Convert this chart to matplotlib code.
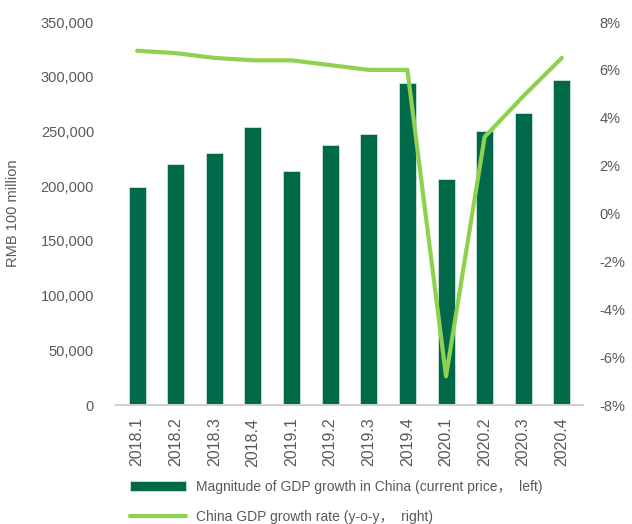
#!/usr/bin/env python3

import numpy as np
import matplotlib
matplotlib.use("Agg")
import matplotlib.pyplot as plt
from matplotlib.ticker import FuncFormatter

quarters = ["2018.1", "2018.2", "2018.3", "2018.4",
            "2019.1", "2019.2", "2019.3", "2019.4",
            "2020.1", "2020.2", "2020.3", "2020.4"]
# RMB 100 million, left axis
gdp_values = [198800, 220300, 230300, 254100,
              213900, 237700, 247700, 294300,
              206600, 250500, 266900, 297000]
# y-o-y %, right axis
growth_rate = [6.8, 6.7, 6.5, 6.4,
               6.4, 6.2, 6.0, 6.0,
               -6.8, 3.2, 4.9, 6.5]

BAR_COLOR = "#00694a"
LINE_COLOR = "#8ed14f"
TEXT_COLOR = "#595959"
FONTS = ["Liberation Sans", "Noto Sans CJK SC", "DejaVu Sans"]

plt.rcParams["font.family"] = FONTS

fig = plt.figure(figsize=(6.32, 5.24), dpi=100)
ax = fig.add_axes([0.184, 0.227, 0.738, 0.731])
ax2 = ax.twinx()

x = np.arange(len(quarters))
bars = ax.bar(x, gdp_values, width=0.44, color=BAR_COLOR,
              edgecolor="#cfe3d8", linewidth=0.6, zorder=2)
line, = ax2.plot(x, growth_rate, color=LINE_COLOR, linewidth=3.0,
                 solid_capstyle="round", solid_joinstyle="round", zorder=3)

ax.set_xlim(-0.54, len(quarters) - 0.46)
ax.set_ylim(0, 350000)
ax.set_yticks(np.arange(0, 350001, 50000))
ax.yaxis.set_major_formatter(FuncFormatter(lambda v, p: "{:,.0f}".format(v)))
ax2.set_ylim(-8, 8)
ax2.set_yticks(np.arange(-8, 9, 2))
ax2.yaxis.set_major_formatter(FuncFormatter(lambda v, p: "{:.0f}%".format(v)))

ax.set_xticks(x)
ax.set_xticklabels(quarters, rotation=90)

for a in (ax, ax2):
    for s in ("top", "left", "right", "bottom"):
        a.spines[s].set_visible(False)
    a.tick_params(length=0, colors=TEXT_COLOR, labelsize=10.5)
ax.spines["bottom"].set_visible(True)
ax.spines["bottom"].set_color("#d0d0d0")
ax.spines["bottom"].set_linewidth(1.5)
ax.tick_params(axis="y", pad=16)
ax.tick_params(axis="x", pad=9, labelsize=11.5)
ax2.tick_params(axis="y", pad=12)

ax.set_ylabel("RMB 100 million", color=TEXT_COLOR, fontsize=10.5)
ax.yaxis.set_label_coords(-0.206, 0.5)

legend_kw = dict(loc="center left", frameon=False, fontsize=10,
                 labelcolor=TEXT_COLOR, handlelength=4.0, handleheight=0.75,
                 handletextpad=0.75, borderpad=0, borderaxespad=0)
fig.legend([bars], ["Magnitude of GDP growth in China (current price，  left)"],
           bbox_to_anchor=(0.206, 0.071), **legend_kw)
fig.legend([line], ["China GDP growth rate (y-o-y，  right)"],
           bbox_to_anchor=(0.206, 0.014), **legend_kw)

fig.savefig("out.png", dpi=100)
